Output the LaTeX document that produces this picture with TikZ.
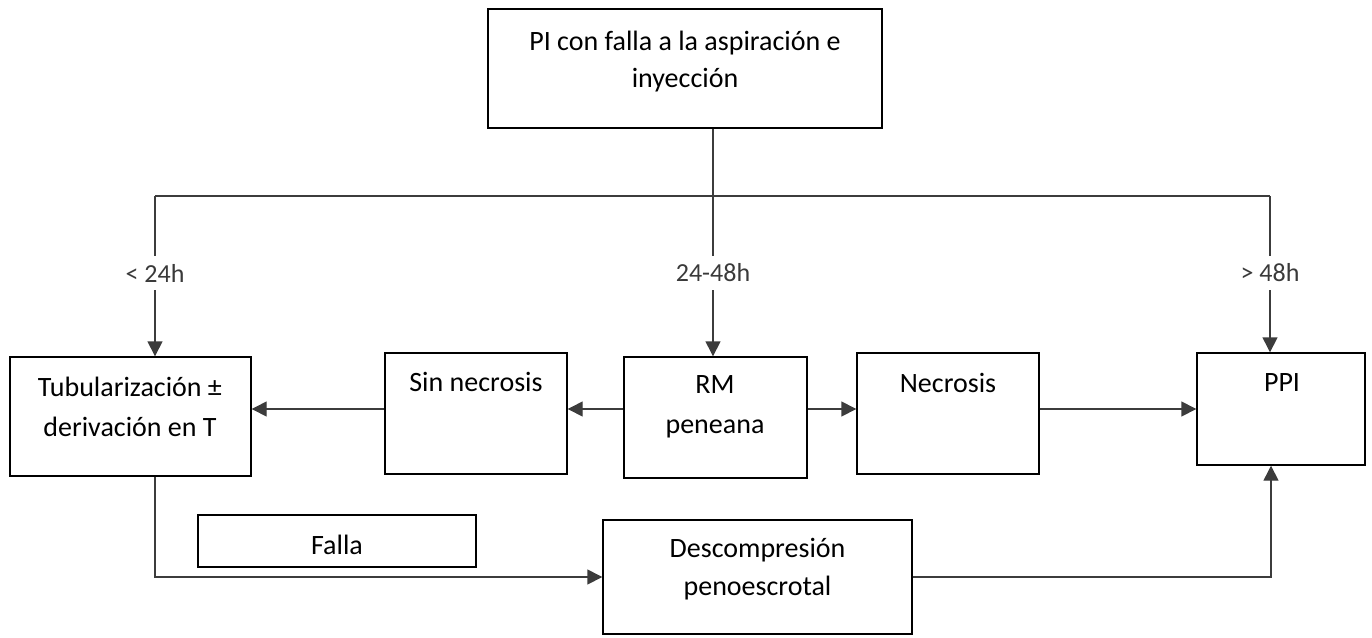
\documentclass[tikz,border=0pt]{standalone}
\usepackage{fontspec}
\setmainfont{Carlito}
\usetikzlibrary{arrows.meta}
\definecolor{linegray}{HTML}{3C3C3C}
\definecolor{labgray}{HTML}{3A3A3A}
\tikzset{
  box/.style={draw=black, line width=1.4pt, rectangle, inner sep=0pt},
  txt/.style={align=center, inner sep=0pt, font=\fontsize{28}{40}\selectfont, text=black},
  lab/.style={inner sep=0pt, font=\fontsize{26}{30}\selectfont, text=labgray, minimum height=34pt},
  conn/.style={draw=linegray, line width=1.4pt},
  arr/.style={conn, -{Triangle[length=15pt,width=15pt]}},
}
\begin{document}
\begin{tikzpicture}[x=1pt,y=-1pt]
\useasboundingbox (0,0) rectangle (1372,637);
% boxes
\node[box, minimum width=394pt, minimum height=119pt] (top) at (685,68.5) {};
\node[box, minimum width=241pt, minimum height=119pt] (tub) at (130.5,416.5) {};
\node[box, minimum width=182pt, minimum height=121pt] (sin) at (476,413.5) {};
\node[box, minimum width=183pt, minimum height=121pt] (rm) at (715.5,417.5) {};
\node[box, minimum width=182pt, minimum height=121pt] (nec) at (948,413.5) {};
\node[box, minimum width=168pt, minimum height=112pt] (ppi) at (1281,409) {};
\node[box, minimum width=278pt, minimum height=52pt] (falla) at (337,541) {};
\node[box, minimum width=309pt, minimum height=114pt] (desc) at (757.5,577) {};
% texts
\node[txt, font=\fontsize{28}{37}\selectfont] (ttop) at (685,61.5) {PI con falla a la aspiración e\\inyección};
\node[txt] (ttub) at (130,407) {Tubularización ±\\derivación en T};
\node[txt] (tsin) at (476,382) {Sin necrosis};
\node[txt] (trm) at (715,407) {RM\\peneana};
\node[txt] (tnec) at (948,383) {Necrosis};
\node[txt] (tppi) at (1282,383) {PPI};
\node[txt] (tfalla) at (337,545) {Falla};
\node[txt, font=\fontsize{28}{38}\selectfont] (tdesc) at (757.5,569) {Descompresión\\penoescrotal};
% labels
\node[lab] (l24) at (155,273) {< 24h};
\node[lab] (l2448) at (713,273) {24-48h};
\node[lab] (l48) at (1270,273) {> 48h};
% bus
\coordinate (busL) at (155,196);
\coordinate (busM) at (713,196);
\coordinate (busR) at (1270,196);
\draw[conn] (busL) -- (busR);
\draw[conn] (busM |- top.south) -- (busM);
\draw[conn] (busL) -- (l24.north);
\draw[conn] (busM) -- (l2448.north);
\draw[conn] (busR) -- (l48.north);
\draw[arr] (l24.south) -- (l24.south |- tub.north);
\draw[arr] (l2448.south) -- (l2448.south |- rm.north);
\draw[arr] (l48.south) -- (l48.south |- ppi.north);
% row arrows
\coordinate (row) at (0,409);
\draw[arr] (sin.west |- row) -- (tub.east |- row);
\draw[arr] (rm.west |- row) -- (sin.east |- row);
\draw[arr] (rm.east |- row) -- (nec.west |- row);
\draw[arr] (nec.east |- row) -- (ppi.west |- row);
% bottom
\coordinate (bl) at (155,577);
\coordinate (br) at (1271,577);
\draw[arr] (tub.south -| bl) -- (bl) -- (desc.west);
\draw[arr] (desc.east) -- (br) -- (br |- ppi.south);
\end{tikzpicture}
\end{document}
